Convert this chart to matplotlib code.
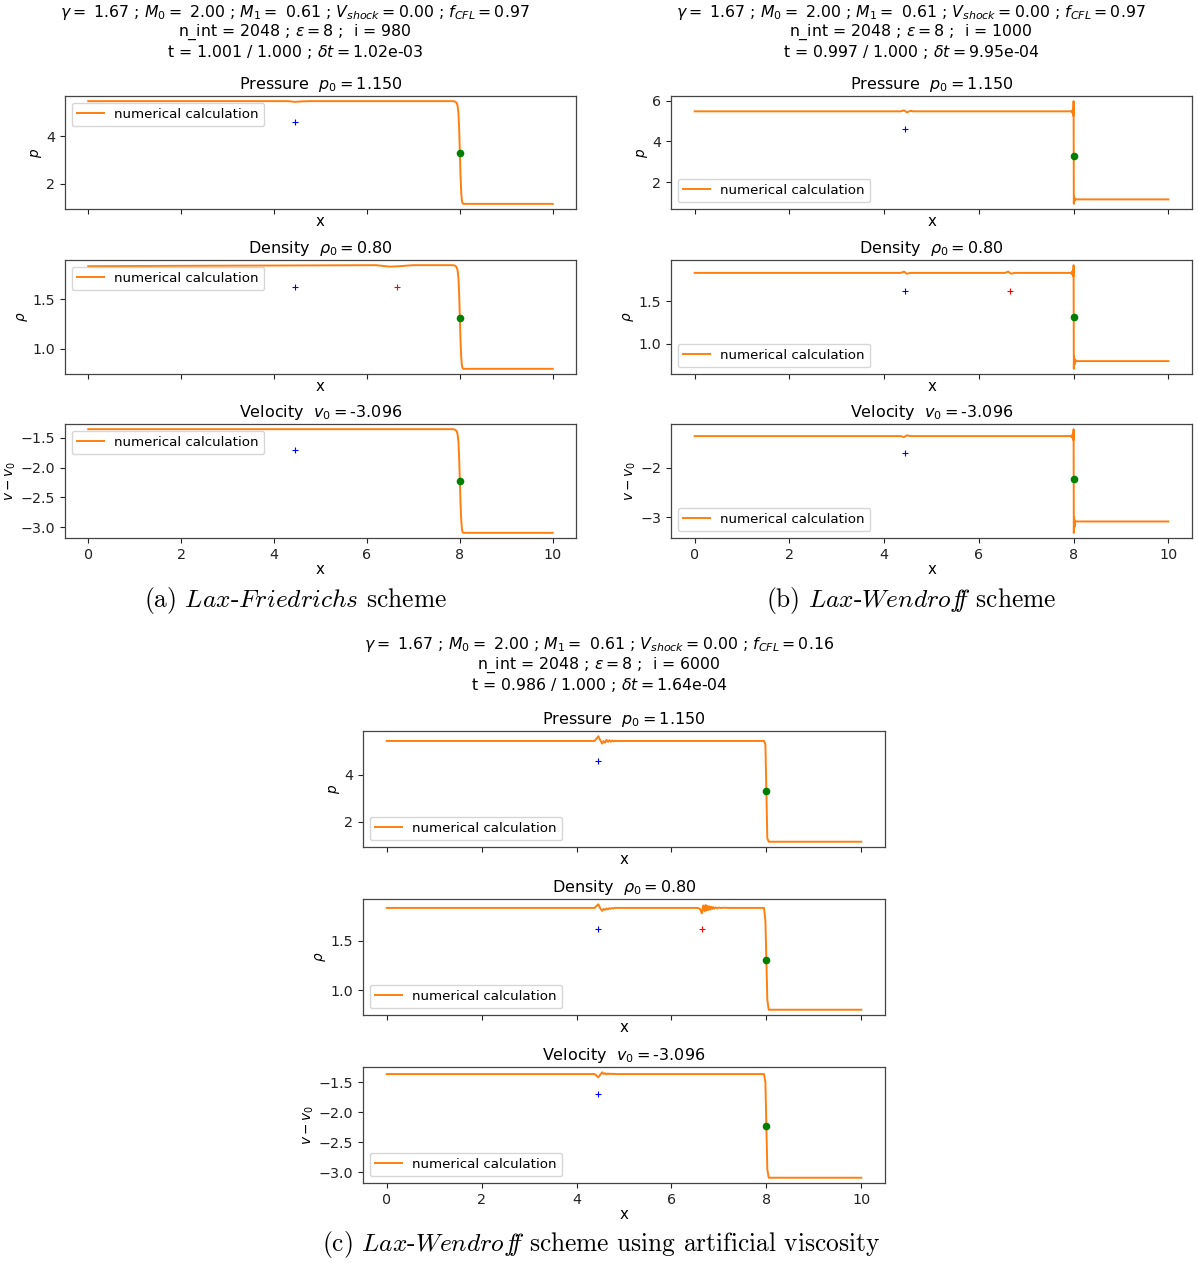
import numpy as np
import matplotlib
matplotlib.use("Agg")
import matplotlib.pyplot as plt

W, H = 1198, 1263

# analytic markers (same for all schemes)
x_contact = 4.45
x_rare = 6.65
x_shock = 8.0
p_contact, rho_contact, v_contact = 4.6, 1.62, -1.70
rho_rare = 1.62
p_shock, rho_shock, v_shock = 3.3, 1.31, -2.23

# (a) Lax-Friedrichs
lf_p_x = [0, 4.3, 4.45, 4.6, 4.8, 7.85, 7.9, 7.93, 7.95, 7.97, 7.985, 8.0, 8.015,
          8.03, 8.045, 8.06, 8.08, 10]
lf_p = [5.47, 5.47, 5.44, 5.46, 5.47, 5.47, 5.45, 5.40, 5.28, 4.95, 4.3, 3.3, 2.3,
        1.6, 1.27, 1.17, 1.15, 1.15]
lf_rho_x = [0, 3.0, 6.2, 6.5, 6.7, 7.0, 7.85, 7.9, 7.93, 7.95, 7.97, 7.985, 8.0, 8.015,
            8.03, 8.045, 8.06, 8.08, 10]
lf_rho = [1.83, 1.835, 1.84, 1.825, 1.83, 1.84, 1.84, 1.835, 1.82, 1.79, 1.71, 1.55,
          1.31, 1.07, 0.91, 0.83, 0.805, 0.80, 0.80]
lf_v_x = [0, 7.85, 7.9, 7.93, 7.95, 7.97, 7.985, 8.0, 8.015, 8.03, 8.045, 8.06, 8.08, 10]
lf_v = [-1.36, -1.36, -1.37, -1.39, -1.44, -1.57, -1.85, -2.23, -2.62, -2.88, -3.03,
        -3.08, -3.09, -3.09]

# (b) Lax-Wendroff
lw_p_x = [0, 4.35, 4.42, 4.48, 4.55, 4.62, 7.94, 7.96, 7.97, 7.98, 7.99, 7.995,
          8.0, 8.005, 8.01, 8.02, 8.03, 8.05, 10]
lw_p = [5.47, 5.47, 5.52, 5.42, 5.49, 5.47, 5.47, 5.44, 5.51, 5.38, 5.6, 5.25,
        5.97, 0.93, 1.3, 1.08, 1.19, 1.15, 1.15]
lw_rho_x = [0, 4.35, 4.42, 4.48, 4.55, 6.55, 6.62, 6.68, 6.75, 7.94, 7.96, 7.97, 7.98,
            7.99, 7.995, 8.0, 8.005, 8.01, 8.02, 8.03, 8.05, 10]
lw_rho = [1.83, 1.83, 1.845, 1.82, 1.83, 1.83, 1.845, 1.82, 1.83, 1.83, 1.82, 1.845, 1.81,
          1.86, 1.79, 1.92, 0.71, 0.86, 0.76, 0.82, 0.80, 0.80]
lw_v_x = [0, 4.35, 4.42, 4.48, 4.55, 7.94, 7.96, 7.97, 7.98, 7.99, 7.995,
          8.0, 8.005, 8.01, 8.02, 8.03, 8.05, 10]
lw_v = [-1.36, -1.36, -1.38, -1.345, -1.36, -1.36, -1.38, -1.34, -1.40, -1.30, -1.44,
        -1.22, -3.32, -3.0, -3.2, -3.07, -3.09, -3.09]

# (c) Lax-Wendroff with artificial viscosity
av_p_x = [0, 4.38, 4.42, 4.46, 4.50, 4.54, 4.57, 4.60, 4.63, 4.66, 4.69, 4.72, 4.75,
          4.78, 4.81, 4.84, 4.87, 4.90, 4.95, 7.95, 7.98, 8.0, 8.02, 8.05, 10]
av_p = [5.45, 5.45, 5.55, 5.65, 5.48, 5.34, 5.45, 5.38, 5.50, 5.41, 5.48, 5.42, 5.47,
        5.43, 5.46, 5.44, 5.455, 5.445, 5.45, 5.45, 5.3, 3.3, 1.3, 1.15, 1.15]
av_rho_x = [0, 4.38, 4.42, 4.46, 4.50, 4.54, 4.57, 4.60, 4.63, 4.66, 4.69, 4.72, 4.75,
            4.78, 4.81, 4.86, 6.55, 6.60, 6.64, 6.67, 6.70, 6.72, 6.74, 6.76, 6.78, 6.80,
            6.82, 6.84, 6.86, 6.88, 6.90, 6.93, 6.96, 7.00, 7.05, 7.10, 7.2, 7.95, 7.98,
            8.0, 8.02, 8.05, 10]
av_rho = [1.835, 1.835, 1.855, 1.872, 1.83, 1.805, 1.825, 1.815, 1.83, 1.82, 1.832, 1.826,
          1.834, 1.830, 1.836, 1.835, 1.835, 1.825, 1.78, 1.86, 1.80, 1.865, 1.81, 1.855,
          1.815, 1.85, 1.82, 1.847, 1.825, 1.843, 1.828, 1.84, 1.832, 1.838, 1.834, 1.837,
          1.835, 1.835, 1.7, 1.31, 0.9, 0.80, 0.80]
av_v_x = [0, 4.38, 4.42, 4.46, 4.50, 4.54, 4.57, 4.60, 4.63, 4.66, 4.69, 4.72, 4.75,
          4.78, 4.81, 4.86, 7.95, 7.98, 8.0, 8.02, 8.05, 10]
av_v = [-1.36, -1.36, -1.385, -1.415, -1.37, -1.33, -1.36, -1.345, -1.365, -1.35, -1.362,
        -1.353, -1.36, -1.355, -1.359, -1.36, -1.36, -1.5, -2.23, -2.95, -3.09, -3.09]

x_ticks = [0, 2, 4, 6, 8, 10]

headers = {
    "a": [r"$\gamma = $ 1.67 ; $M_0 = $ 2.00 ; $M_1 = $ 0.61 ; $V_{shock} = 0.00$ ; $f_{CFL} = 0.97$",
          r"n_int = 2048 ; $\epsilon = 8$ ;  i = 980",
          r"t = 1.001 / 1.000 ; $\delta t = $1.02e-03"],
    "b": [r"$\gamma = $ 1.67 ; $M_0 = $ 2.00 ; $M_1 = $ 0.61 ; $V_{shock} = 0.00$ ; $f_{CFL} = 0.97$",
          r"n_int = 2048 ; $\epsilon = 8$ ;  i = 1000",
          r"t = 0.997 / 1.000 ; $\delta t = $9.95e-04"],
    "c": [r"$\gamma = $ 1.67 ; $M_0 = $ 2.00 ; $M_1 = $ 0.61 ; $V_{shock} = 0.00$ ; $f_{CFL} = 0.16$",
          r"n_int = 2048 ; $\epsilon = 8$ ;  i = 6000",
          r"t = 0.986 / 1.000 ; $\delta t = $1.64e-04"],
}
titles = [r"Pressure  $p_0 = 1.150$", r"Density  $\rho_0 = 0.80$", r"Velocity  $v_0 = $-3.096"]
ylabels = [r"$p$", r"$\rho$", r"$v - v_0$"]
captions = {
    "a": r"(a) $\mathit{Lax}$-$\mathit{Friedrichs}$ scheme",
    "b": r"(b) $\mathit{Lax}$-$\mathit{Wendrof\!\!f}$ scheme",
    "c": r"(c) $\mathit{Lax}$-$\mathit{Wendrof\!\!f}$ scheme using artificial viscosity",
}

plt.rcParams["font.family"] = ["DejaVu Sans"]
plt.rcParams["axes.edgecolor"] = "#444444"
plt.rcParams["axes.linewidth"] = 0.9

fig = plt.figure(figsize=(W / 100, H / 100), dpi=100)


def box(l, r, t, b):
    return [l / W, 1 - b / H, (r - l) / W, (b - t) / H]


def panel(key, left, right, rows, curves, yticks, loc, hx, hy, cx, cy):
    for i, line in enumerate(headers[key]):
        fig.text(hx / W, 1 - (hy + i * 20) / H, line, ha="center", va="center", fontsize=11.3)
    for j, (t, b) in enumerate(rows):
        ax = fig.add_axes(box(left, right, t, b))
        xs, ys = curves[j]
        ax.plot(xs, ys, color="C1", lw=1.4, label="numerical calculation")
        if j == 0:
            ax.plot(x_contact, p_contact, "+", color="blue", ms=5, mew=0.8)
            ax.plot(x_shock, p_shock, "o", color="green", ms=4.5)
        elif j == 1:
            ax.plot(x_contact, rho_contact, "+", color="blue", ms=5, mew=0.8)
            ax.plot(x_rare, rho_rare, "+", color="red", ms=5, mew=0.8)
            ax.plot(x_shock, rho_shock, "o", color="green", ms=4.5)
        else:
            ax.plot(x_contact, v_contact, "+", color="blue", ms=5, mew=0.8)
            ax.plot(x_shock, v_shock, "o", color="green", ms=4.5)
        ax.set_xticks(x_ticks)
        ax.set_yticks(yticks[j])
        ax.set_xlim(-0.5, 10.5)
        ax.tick_params(labelsize=10.3, colors="#222222")
        if j < 2:
            ax.tick_params(labelbottom=False)
        ax.set_xlabel("x", fontsize=10.8, labelpad=0)
        ax.set_ylabel(ylabels[j], fontsize=9.8, labelpad=2)
        ax.set_title(titles[j], fontsize=11.5, pad=5)
        ax.legend(loc=loc, fontsize=9.6)
    fig.text(cx / W, 1 - cy / H, captions[key], ha="center", va="center",
             family="cmr10", math_fontfamily="cm", fontsize=18.3)


rows_top = [(96, 209), (260, 374), (424, 538)]
rows_bot = [(731, 847), (899, 1015), (1067, 1183)]

panel("a", 65, 576, rows_top,
      [(lf_p_x, lf_p), (lf_rho_x, lf_rho), (lf_v_x, lf_v)],
      [[2, 4], [1.0, 1.5], [-3.0, -2.5, -2.0, -1.5]], "upper left", 295, 12, 295, 600)
panel("b", 671, 1192, rows_top,
      [(lw_p_x, lw_p), (lw_rho_x, lw_rho), (lw_v_x, lw_v)],
      [[2, 4, 6], [1.0, 1.5], [-3, -2]], "lower left", 911, 12, 911, 600)
panel("c", 363, 885, rows_bot,
      [(av_p_x, av_p), (av_rho_x, av_rho), (av_v_x, av_v)],
      [[2, 4], [1.0, 1.5], [-3.0, -2.5, -2.0, -1.5]], "lower left", 599, 645, 601, 1245)

fig.savefig("out.png", dpi=100)
